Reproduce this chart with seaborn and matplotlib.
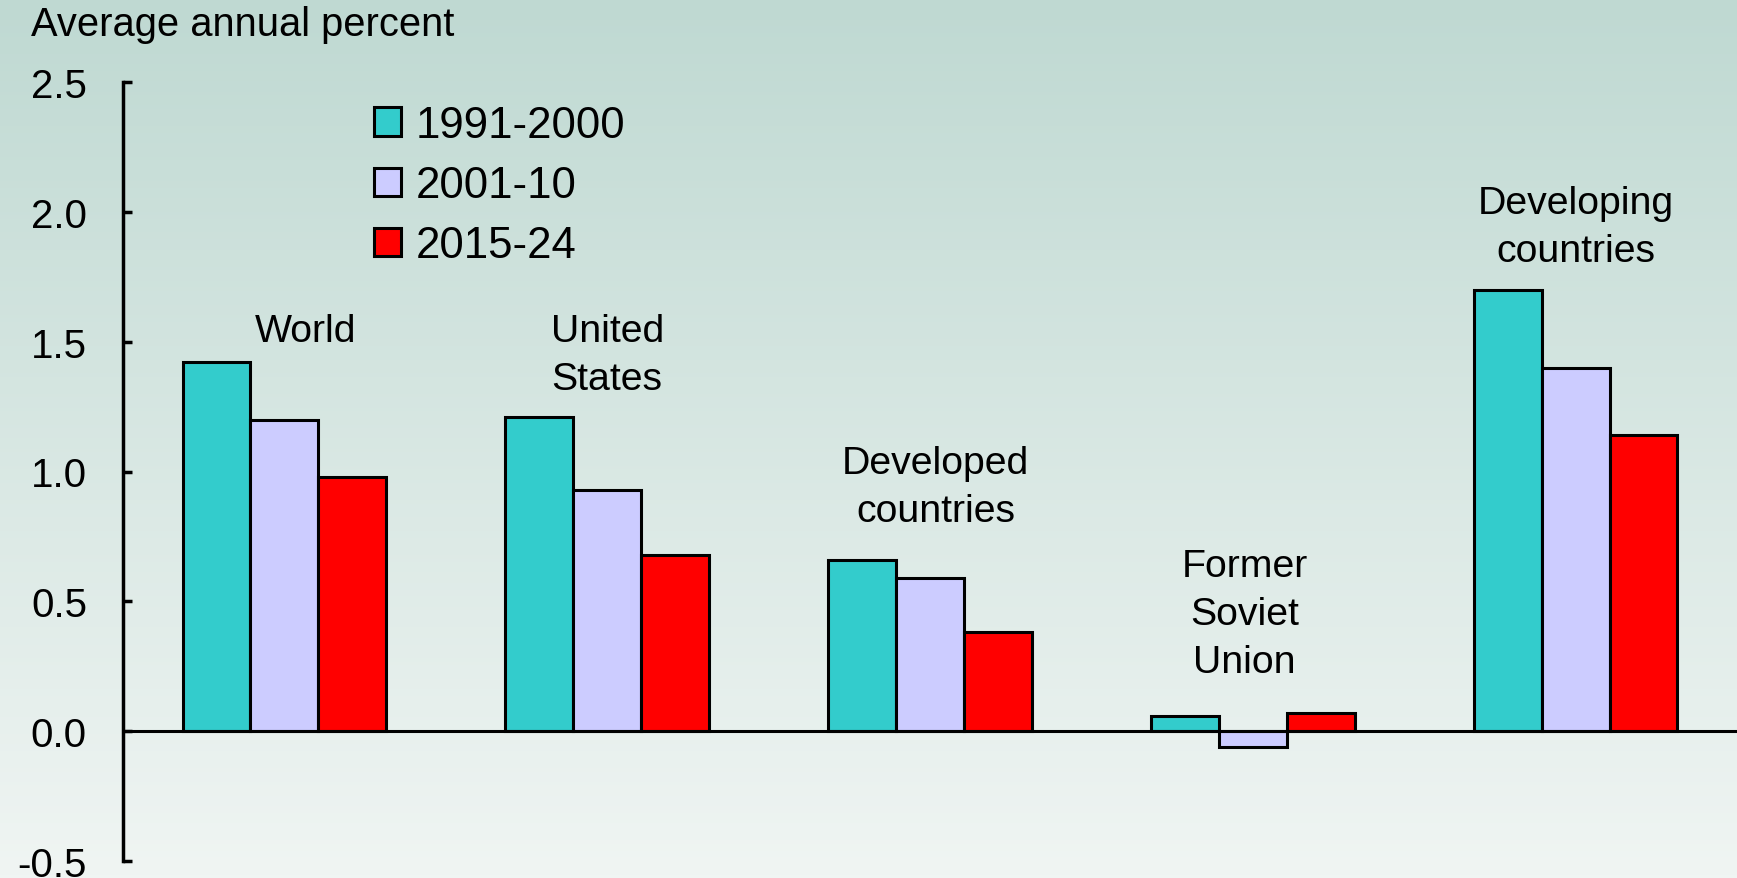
import numpy as np
import pandas as pd
import matplotlib
matplotlib.use("Agg")
import matplotlib.pyplot as plt
from matplotlib.patches import Patch
import seaborn as sns

# ---- data ----
regions = ["World", "United States", "Developed countries", "Former Soviet Union", "Developing countries"]
region_labels = ["World", "United\nStates", "Developed\ncountries", "Former\nSoviet\nUnion", "Developing\ncountries"]
periods = ["1991-2000", "2001-10", "2015-24"]
vals_1991_2000 = [1.42, 1.21, 0.66, 0.06, 1.70]
vals_2001_10 = [1.20, 0.93, 0.59, -0.06, 1.40]
vals_2015_24 = [0.98, 0.68, 0.38, 0.07, 1.14]
label_y = [1.541, 1.45, 0.94, 0.452, 1.942]
label_dx = [0.065, 0.0, 0.017, -0.026, 0.0]
colors = ["#33CCCC", "#CCCCFF", "#FF0000"]
yticks = [-0.5, 0.0, 0.5, 1.0, 1.5, 2.0, 2.5]

df = pd.DataFrame({
    "region": regions * 3,
    "period": [periods[0]] * 5 + [periods[1]] * 5 + [periods[2]] * 5,
    "value": vals_1991_2000 + vals_2001_10 + vals_2015_24,
})

sns.set_theme(style="white")
plt.rcParams["font.family"] = ["Liberation Sans", "DejaVu Sans"]
plt.rcParams["axes.unicode_minus"] = False
plt.rcParams["text.color"] = "black"

W, H = 1737, 879
fig = plt.figure(figsize=(W / 100, H / 100), dpi=100)

# background gradient
bg = fig.add_axes([0, 0, 1, 1], zorder=-10)
top = np.array([191, 217, 210]) / 255
bot = np.array([240, 245, 243]) / 255
t = np.linspace(0, 1, 256)[:, None]
grad = top[None, :] * (1 - t) + bot[None, :] * t
bg.imshow(grad[:, None, :].repeat(2, axis=1), aspect="auto", extent=[0, 1, 0, 1])
bg.axis("off")

ax = fig.add_axes([123 / W, 1 - 862 / H, 1 - 123 / W, (862 - 83) / H])
ax.set_facecolor("none")

sns.barplot(data=df, x="region", y="value", hue="period", order=regions,
            hue_order=periods, palette=colors, width=0.631, gap=0,
            edgecolor="black", linewidth=2.2, saturation=1, ax=ax, legend=False)

ax.axhline(0, color="black", lw=2.2, zorder=5)
ax.set_ylim(-0.5, 2.5)
ax.set_xlim(-0.5, 4.5)
ax.set_yticks(yticks)
ax.set_yticklabels([f"{v:.1f}" for v in yticks])
ax.set_xticks([])
ax.set_xlabel("")
ax.set_ylabel("")
for s in ["top", "right", "bottom"]:
    ax.spines[s].set_visible(False)
ax.spines["left"].set_linewidth(2.5)
ax.spines["left"].set_color("black")
ax.tick_params(axis="y", direction="in", length=6.5, width=2.5, pad=26,
               labelsize=29, colors="black", left=True)

for i, lab in enumerate(region_labels):
    ax.text(i + label_dx[i], label_y[i], lab, ha="center", va="center",
            fontsize=28.3, linespacing=1.42, color="black")

fig.text(31 / W, 1 - 25 / H, "Average annual percent", ha="left", va="center",
         fontsize=28.7, color="black")

handles = [Patch(facecolor=c, edgecolor="black", linewidth=2.2) for c in colors]
fig.legend(handles, periods, loc="upper left", bbox_to_anchor=(374 / W, 1 - 106 / H),
           frameon=False, fontsize=31.5, handlelength=0.62, handleheight=0.62,
           handletextpad=0.33, labelspacing=0.44, borderpad=0, borderaxespad=0,
           labelcolor="black")

fig.savefig("out.png", dpi=100)
